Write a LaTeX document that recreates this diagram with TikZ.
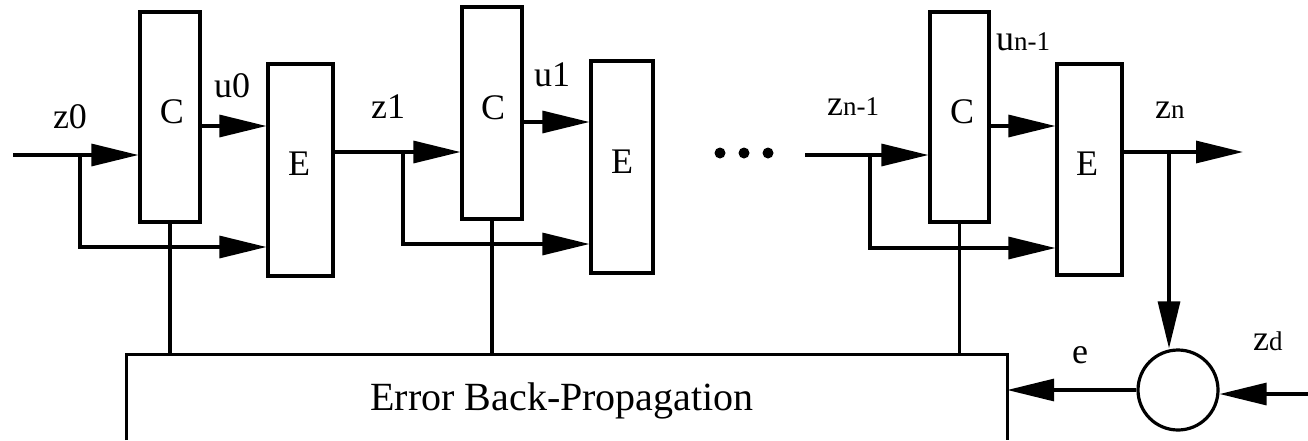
\documentclass[tikz,border=0pt]{standalone}
\usepackage{fontspec}
\setmainfont{Liberation Serif}
\usetikzlibrary{arrows.meta}
\tikzset{
  ln/.style={line width=3.2pt},
  arr/.style={ln, -{Triangle[length=47pt,width=22pt]}},
  blk/.style={draw, line width=3.2pt, rectangle, inner sep=0pt},
  lab/.style={font=\fontsize{36}{40}\selectfont, inner sep=0pt, anchor=base},
  labw/.style={lab, anchor=base west},
  sub/.style={},
}
\newcommand\smallsub[1]{{\fontsize{27}{30}\selectfont #1}}
\begin{document}
\begin{tikzpicture}[x=1pt,y=-1pt]
\useasboundingbox (0,0) rectangle (1308,440);
% blocks
\node[blk, minimum width=60pt, minimum height=210pt] (c1) at (170,117) {};
\node[blk, minimum width=65pt, minimum height=212pt] (e1) at (300.5,170) {};
\node[blk, minimum width=60pt, minimum height=212pt] (c2) at (492,113) {};
\node[blk, minimum width=62pt, minimum height=212pt] (e2) at (622,167) {};
\node[blk, minimum width=59pt, minimum height=210pt] (c3) at (959.5,117) {};
\node[blk, minimum width=65pt, minimum height=211pt] (e3) at (1089.5,169.5) {};
\node[inner sep=0pt, minimum width=880pt, minimum height=85pt] (ebp) at (567,397.5) {};
\draw[ln] (ebp.south west) -- (ebp.north west) -- (ebp.north east) -- (ebp.south east);
\node[draw, circle, line width=3.2pt, minimum size=80pt, inner sep=0pt] (sum) at (1178,390) {};
% labels
\node[lab] (lc1) at (172,123) {C};
\node[lab] (le1) at (299,175) {E};
\node[lab] (lc2) at (493,119) {C};
\node[lab] (le2) at (622,173) {E};
\node[lab] (lc3) at (962,123) {C};
\node[lab] (le3) at (1087,175) {E};
\node[lab] (lz0) at (70,128) {z0};
\node[lab] (lu0) at (232,97) {u0};
\node[lab] (lz1) at (388,118) {z1};
\node[lab] (lu1) at (552,86) {u1};
\node[labw] (lzn1) at (827,115) {z\smallsub{n-1}};
\node[labw] (lun1) at (996,50) {u\smallsub{n-1}};
\node[labw] (lzn) at (1155,118) {z\smallsub{n}};
\node[lab] (le) at (1080,363) {e};
\node[labw] (lzd) at (1253,350) {z\smallsub{d}};
\node[font=\fontsize{40}{44}\selectfont, inner sep=0pt, anchor=base] (lebp) at (562,410) {Error Back-Propagation};
% dots
\fill (720,153) circle (5.5pt);
\fill (744,153) circle (5.5pt);
\fill (768,153) circle (5.5pt);
% coordinates
\coordinate (in0) at (13,155);
\coordinate (b0) at (80,155);
\coordinate (f0) at (80,247);
\coordinate (u0s) at (200,126);
\coordinate (z1s) at (333,152);
\coordinate (b1) at (403,152);
\coordinate (f1) at (403,244);
\coordinate (u1s) at (522,122);
\coordinate (in2) at (805,155);
\coordinate (b2) at (870,155);
\coordinate (f2) at (870,248);
\coordinate (uns) at (989,126);
\coordinate (zns) at (1122,152);
\coordinate (out) at (1243,152);
\coordinate (b3) at (1169,152);
\coordinate (zdin) at (1308,394);
% stage 1
\draw[arr] (in0) -- (in0 -| c1.west);
\draw[arr] (b0) -- (f0) -- (f0 -| e1.west);
\draw[arr] (u0s) -- (u0s -| e1.west);
\draw[ln] (c1.south) -- (c1.south |- ebp.north);
% stage 2
\draw[arr] (z1s) -- (z1s -| c2.west);
\draw[arr] (b1) -- (f1) -- (f1 -| e2.west);
\draw[arr] (u1s) -- (u1s -| e2.west);
\draw[ln] (c2.south) -- (c2.south |- ebp.north);
% stage n
\draw[arr] (in2) -- (in2 -| c3.west);
\draw[arr] (b2) -- (f2) -- (f2 -| e3.west);
\draw[arr] (uns) -- (uns -| e3.west);
\draw[ln] (c3.south) -- (c3.south |- ebp.north);
\draw[arr] (zns) -- (out);
\draw[arr] (b3) -- (b3 |- sum.north);
% error
\draw[arr] (sum.west) -- (sum.west -| ebp.east);
\draw[arr] (zdin) -- (zdin -| sum.east);
\end{tikzpicture}
\end{document}
